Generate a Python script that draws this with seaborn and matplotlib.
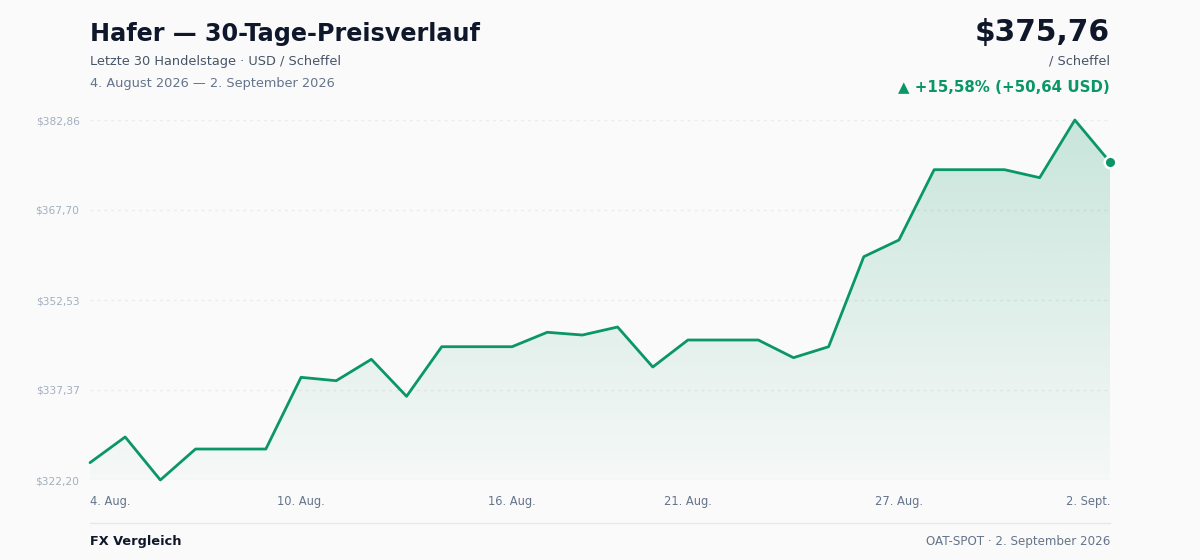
import numpy as np
import pandas as pd
import matplotlib
matplotlib.use("Agg")
import matplotlib.pyplot as plt
import matplotlib.dates as mdates
from matplotlib.colors import to_rgb
import seaborn as sns

# Data
dates = pd.date_range("2026-08-04", "2026-09-02", freq="D")
prices = [325.12, 329.45, 322.20, 327.42, 327.42, 327.42, 339.50, 338.93, 342.54, 336.30,
          344.66, 344.66, 344.66, 347.09, 346.63, 347.98, 341.24, 345.79, 345.79, 345.79,
          342.81, 344.66, 359.83, 362.64, 374.49, 374.49, 374.49, 373.14, 382.86, 375.76]
tick_dates = ["2026-08-04", "2026-08-10", "2026-08-16", "2026-08-21", "2026-08-27", "2026-09-02"]
tick_labels = ["4. Aug.", "10. Aug.", "16. Aug.", "21. Aug.", "27. Aug.", "2. Sept."]
y_ticks = [322.20, 337.37, 352.53, 367.70, 382.86]

title = "Hafer — 30-Tage-Preisverlauf"
subtitle = "Letzte 30 Handelstage · USD / Scheffel"
date_range_text = "4. August 2026 — 2. September 2026"
price_text = "$375,76"
unit_text = "/ Scheffel"
change_text = "▲ +15,58% (+50,64 USD)"
footer_left = "FX Vergleich"
footer_right = "OAT-SPOT · 2. September 2026"

GREEN = "#0a9668"
BG = "#fafafa"
DARK = "#0f172a"
MUTED = "#475569"
GRAY = "#64748b"
LIGHT = "#a3aebf"

sns.set_theme(style="white")
plt.rcParams["font.family"] = ["DejaVu Sans"]

df = pd.DataFrame({"date": dates, "price": prices})

fig = plt.figure(figsize=(12, 5.6), dpi=100, facecolor=BG)
ax = fig.add_axes([0.075, 1 - 480 / 560, 0.85, 360 / 560])
ax.set_facecolor(BG)

x0, x1 = mdates.date2num(dates[0]), mdates.date2num(dates[-1])
ymin, ymax = y_ticks[0], y_ticks[-1]
ax.set_xlim(dates[0], dates[-1])
ax.set_ylim(ymin, ymax)

# dotted grid lines
for yv in y_ticks:
    ax.axhline(yv, color="#e8ebef", lw=1, ls=(0, (2, 3)), zorder=0)

# gradient fill under the line
poly = ax.fill_between(df["date"], df["price"], ymin, color="none", lw=0)
r, g, b = to_rgb(GREEN)
rgba = np.zeros((256, 1, 4))
rgba[..., 0], rgba[..., 1], rgba[..., 2] = r, g, b
rgba[:, 0, 3] = np.linspace(0.21, 0.02, 256)
img = ax.imshow(rgba, extent=[x0, x1, ymin, ymax], aspect="auto", origin="upper", zorder=1)
img.set_clip_path(poly.get_paths()[0], transform=ax.transData)

sns.lineplot(data=df, x="date", y="price", ax=ax, color=GREEN, lw=2, zorder=3, clip_on=False)
ax.scatter([dates[-1]], [prices[-1]], s=70, color=GREEN, edgecolor="white", linewidth=1.8,
           zorder=4, clip_on=False)

for s in ax.spines.values():
    s.set_visible(False)

ax.set_yticks(y_ticks)
ax.set_yticklabels(["$" + f"{v:.2f}".replace(".", ",") for v in y_ticks], color=LIGHT, fontsize=7.7)
ax.set_xticks(pd.to_datetime(tick_dates))
ax.set_xticklabels(tick_labels, color=GRAY, fontsize=8.3)
ax.tick_params(axis="y", length=0, pad=7.5)
ax.tick_params(axis="x", length=0, pad=11)
xt = ax.get_xticklabels()
xt[0].set_ha("left")
xt[-1].set_ha("right")
ax.set_xlabel("")
ax.set_ylabel("")

# header texts
fig.text(90 / 1200, 1 - 34 / 560, title, fontsize=17.2, fontweight="bold", color=DARK, va="center")
fig.text(90 / 1200, 1 - 61 / 560, subtitle, fontsize=9.3, color=MUTED, va="center")
fig.text(90 / 1200, 1 - 83 / 560, date_range_text, fontsize=9.3, color=GRAY, va="center")
fig.text(1110 / 1200, 1 - 32 / 560, price_text, fontsize=21.3, fontweight="bold", color=DARK,
         va="center", ha="right")
fig.text(1110 / 1200, 1 - 61 / 560, unit_text, fontsize=9.3, color=MUTED, va="center", ha="right")
fig.text(1110 / 1200, 1 - 87 / 560, change_text, fontsize=10.8, fontweight="bold", color=GREEN,
         va="center", ha="right")

# footer
fig.add_artist(plt.Line2D([90 / 1200, 1110 / 1200], [1 - 523 / 560] * 2, color="#e5e7eb", lw=1))
fig.text(90 / 1200, 1 - 541 / 560, footer_left, fontsize=9.3, fontweight="bold", color=DARK, va="center")
fig.text(1110 / 1200, 1 - 541 / 560, footer_right, fontsize=8.6, color=GRAY, va="center", ha="right")

fig.savefig("out.png", dpi=100, facecolor=BG)
